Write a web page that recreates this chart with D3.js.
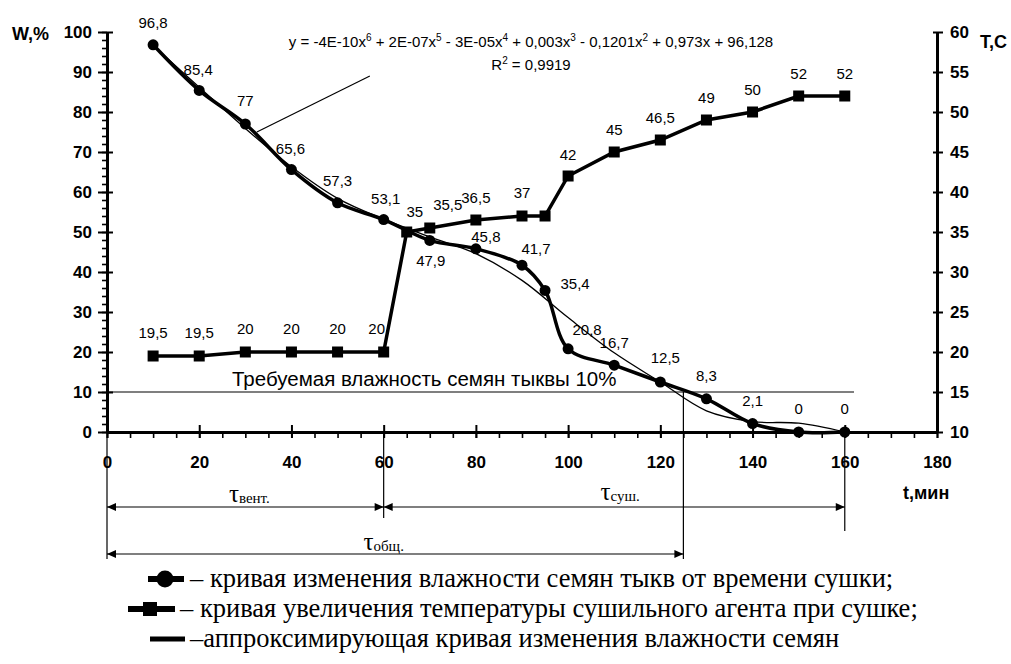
<!DOCTYPE html>
<html>
<head>
<meta charset="utf-8">
<script src="https://cdn.jsdelivr.net/npm/d3@7"></script>
<style>
  body { margin: 0; background: #fff; }
  svg { display: block; }
  .sans { font-family: "Liberation Sans", Arial, sans-serif; }
  .serif { font-family: "Liberation Serif", "Times New Roman", serif; }
</style>
</head>
<body>
<svg id="chart" width="1011" height="664"></svg>
<script>
// Seed moisture, % (left axis) against drying time, min
const moistureTime = [10, 20, 30, 40, 50, 60, 70, 80, 90, 95, 100, 110, 120, 130, 140, 150, 160];
const moistureValues = [96.8, 85.4, 77, 65.6, 57.3, 53.1, 47.9, 45.8, 41.7, 35.4, 20.8, 16.7, 12.5, 8.3, 2.1, 0, 0];

// Drying agent temperature, °C (right axis)
const temperatureTime = [10, 20, 30, 40, 50, 60, 65, 70, 80, 90, 95, 100, 110, 120, 130, 140, 150, 160];
const temperatureValues = [19.5, 19.5, 20, 20, 20, 20, 35, 35.5, 36.5, 37, 37, 42, 45, 46.5, 49, 50, 52, 52];
const temperatureShown = [1, 1, 1, 1, 1, 1, 1, 1, 1, 1, 0, 1, 1, 1, 1, 1, 1, 1];

// Polynomial approximation of the moisture curve
const trendTime = [10, 20, 30, 40, 50, 60, 70, 80, 90, 100, 110, 120, 130, 140, 150, 160];
const trendValues = [96.6, 86.2, 75.9, 66.3, 58.4, 53.2, 48.8, 44.6, 37.9, 28.6, 19.8, 12.5, 5.3, 2.6, 2.2, 0];

const requiredMoisture = 10;
const ventEnd = 60, dryReached = 125, dryEnd = 160;

const timeTicks = [0, 20, 40, 60, 80, 100, 120, 140, 160, 180];
const moistureTicks = [0, 10, 20, 30, 40, 50, 60, 70, 80, 90, 100];
const temperatureTicks = [10, 15, 20, 25, 30, 35, 40, 45, 50, 55, 60];

// label nudges (px) relative to each marker
const moistureNudge = [[0,-22],[-1,-21],[0,-23],[-1,-21],[0,-22],[2,-21],[1,20],[10,-12],[14,-16],[30,-7],[19,-19],[0,-22],[5,-24],[0,-23],[0,-23],[0,-23],[0,-23]];
const temperatureNudge = [[0,-23],[0,-23],[0,-23],[0,-23],[0,-23],[-7,-23],[8,-20],[18,-23],[0,-22],[0,-23],[0,0],[0,-21],[0,-22],[0,-22],[0,-22],[0,-22],[0,-22],[0,-22]];

const equationParts = [["y = -4E-10x", 0], ["6", 1], [" + 2E-07x", 0], ["5", 1], [" - 3E-05x", 0], ["4", 1],
  [" + 0,003x", 0], ["3", 1], [" - 0,1201x", 0], ["2", 1], [" + 0,973x + 96,128", 0]];

const legendRows = [
  { mark: "circle", text: "– кривая изменения влажности семян тыкв от времени сушки;" },
  { mark: "square", text: "– кривая увеличения температуры сушильного агента при сушке;" },
  { mark: "line",   text: "–аппроксимирующая кривая изменения влажности семян" }
];

const svg = d3.select("#chart");
svg.append("rect").attr("width", 1011).attr("height", 664).attr("fill", "#fff");

const x = d3.scaleLinear().domain([0, 180]).range([107, 937]);
const yW = d3.scaleLinear().domain([0, 100]).range([432, 32]);
const yT = d3.scaleLinear().domain([10, 60]).range([432, 32]);
const comma = v => String(v).replace(".", ",");

function styleAxis(g, width) {
  g.attr("font-size", null).attr("font-family", null);
  g.select(".domain").attr("stroke-width", width);
  g.selectAll(".tick line").attr("stroke-width", 2);
}

// ---- left axis: minor, inner major, outer major with labels
svg.append("g").attr("transform", `translate(${x(0)},0)`)
  .call(d3.axisLeft(yW).tickValues(d3.range(0, 101, 2)).tickSize(5).tickSizeOuter(0).tickFormat(""))
  .call(g => { g.select(".domain").remove(); g.selectAll(".tick line").attr("stroke-width", 1.6); });
svg.append("g").attr("transform", `translate(${x(0)},0)`)
  .call(d3.axisLeft(yW).tickValues(moistureTicks).tickSize(-6).tickSizeOuter(0).tickFormat(""))
  .call(g => { g.select(".domain").remove(); g.selectAll(".tick line").attr("stroke-width", 2); });
svg.append("g").attr("class", "sans").attr("transform", `translate(${x(0)},0)`)
  .call(d3.axisLeft(yW).tickValues(moistureTicks).tickSize(9).tickPadding(6).tickSizeOuter(0))
  .call(g => styleAxis(g, 3))
  .call(g => g.selectAll("text").attr("font-size", 17).attr("font-weight", "bold"));

// ---- bottom axis
svg.append("g").attr("transform", `translate(0,${yW(0)})`)
  .call(d3.axisBottom(x).tickValues(d3.range(0, 181, 5)).tickSize(6).tickSizeOuter(0).tickFormat(""))
  .call(g => { g.select(".domain").remove(); g.selectAll(".tick line").attr("stroke-width", 1.6); });
svg.append("g").attr("transform", `translate(0,${yW(0)})`)
  .call(d3.axisBottom(x).tickValues(timeTicks).tickSize(-7).tickSizeOuter(0).tickFormat(""))
  .call(g => { g.select(".domain").remove(); g.selectAll(".tick line").attr("stroke-width", 2); });
svg.append("g").attr("class", "sans").attr("transform", `translate(0,${yW(0)})`)
  .call(d3.axisBottom(x).tickValues(timeTicks).tickSize(6).tickPadding(18).tickSizeOuter(0))
  .call(g => styleAxis(g, 3))
  .call(g => g.selectAll("text").attr("font-size", 17).attr("font-weight", "bold"));

// ---- right axis
svg.append("g").attr("transform", `translate(${x(180)},0)`)
  .call(d3.axisRight(yT).tickValues(temperatureTicks).tickSize(-4).tickSizeOuter(0).tickFormat(""))
  .call(g => { g.select(".domain").remove(); g.selectAll(".tick line").attr("stroke-width", 2); });
svg.append("g").attr("class", "sans").attr("transform", `translate(${x(180)},0)`)
  .call(d3.axisRight(yT).tickValues(temperatureTicks).tickSize(6).tickPadding(7).tickSizeOuter(0))
  .call(g => styleAxis(g, 3))
  .call(g => g.selectAll("text").attr("font-size", 17).attr("font-weight", "bold"));

// ---- axis titles
const titles = svg.append("g").attr("class", "sans").attr("font-weight", "bold").attr("font-size", 18);
titles.append("text").attr("x", 12).attr("y", 40).text("W,%");
titles.append("text").attr("x", 980).attr("y", 48).text("T,C");
titles.append("text").attr("x", 903).attr("y", 499).text("t,мин");

// ---- required moisture line
svg.append("line")
  .attr("x1", x(0)).attr("x2", x(162))
  .attr("y1", yW(requiredMoisture)).attr("y2", yW(requiredMoisture))
  .attr("stroke", "#000").attr("stroke-width", 1.2);
svg.append("text").attr("class", "sans").attr("font-size", 20.5)
  .attr("x", 232).attr("y", yW(requiredMoisture) - 6)
  .text("Требуемая влажность семян тыквы " + requiredMoisture + "%");

// ---- timing annotations below the axis
const ann = svg.append("g").attr("stroke", "#000").attr("stroke-width", 1.2);
ann.append("line").attr("x1", x(0)).attr("x2", x(0)).attr("y1", yW(0)).attr("y2", 559);
ann.append("line").attr("x1", x(ventEnd)).attr("x2", x(ventEnd)).attr("y1", yW(0)).attr("y2", 518);
ann.append("line").attr("x1", x(dryReached)).attr("x2", x(dryReached)).attr("y1", yW(requiredMoisture)).attr("y2", 559);
ann.append("line").attr("x1", x(dryEnd)).attr("x2", x(dryEnd)).attr("y1", yW(0)).attr("y2", 531);

function span(t0, t1, yy) {
  const a = x(t0), b = x(t1);
  ann.append("line").attr("x1", a).attr("x2", b).attr("y1", yy).attr("y2", yy);
  svg.append("path").attr("fill", "#000")
    .attr("d", `M${a},${yy}l9,-4v8z M${b},${yy}l-9,-4v8z`);
}
span(0, ventEnd, 507);
span(ventEnd, dryEnd, 507);
span(0, dryReached, 554);

function tau(cx, yy, sub) {
  const t = svg.append("text").attr("class", "serif").attr("x", cx).attr("y", yy).attr("text-anchor", "middle");
  t.append("tspan").attr("font-size", 25).text("τ");
  t.append("tspan").attr("font-size", 15).attr("dy", 1).text(sub);
}
tau(x(ventEnd / 2) + 4, 502, "вент.");
tau(x((ventEnd + dryEnd) / 2) + 6, 500, "суш.");
tau(x(ventEnd), 550, "общ.");

// ---- trend curve and label leader
svg.append("path")
  .datum(trendTime.map((t, i) => [t, trendValues[i]]))
  .attr("fill", "none").attr("stroke", "#000").attr("stroke-width", 1.3)
  .attr("d", d3.line().x(d => x(d[0])).y(d => yW(d[1])).curve(d3.curveCatmullRom.alpha(0.5)));
svg.append("line")
  .attr("x1", x(32.5)).attr("y1", yW(75)).attr("x2", x(57)).attr("y2", yW(89))
  .attr("stroke", "#000").attr("stroke-width", 1.2);

const eq = svg.append("text").attr("class", "sans").attr("font-size", 15)
  .attr("x", 531).attr("y", 47).attr("text-anchor", "middle");
equationParts.forEach(([s, sup]) => {
  if (sup) eq.append("tspan").attr("font-size", 10).attr("dy", -6).text(s);
  else {
    const tsp = eq.append("tspan").text(s);
    if (eq.selectAll("tspan").size() > 1) tsp.attr("dy", 6);
  }
});
const r2 = svg.append("text").attr("class", "sans").attr("font-size", 15)
  .attr("x", 531).attr("y", 70).attr("text-anchor", "middle");
r2.append("tspan").text("R");
r2.append("tspan").attr("font-size", 10).attr("dy", -6).text("2");
r2.append("tspan").attr("dy", 6).text(" = 0,9919");

// ---- temperature series
const tempPts = temperatureTime.map((t, i) => ({ t, v: temperatureValues[i], i }));
svg.append("path").datum(tempPts)
  .attr("fill", "none").attr("stroke", "#000").attr("stroke-width", 3.5)
  .attr("d", d3.line().x(d => x(d.t)).y(d => yT(d.v)));
svg.selectAll("rect.temp").data(tempPts).join("rect").attr("class", "temp")
  .attr("x", d => x(d.t) - 5.5).attr("y", d => yT(d.v) - 5.5)
  .attr("width", 11).attr("height", 11).attr("fill", "#000");

// ---- moisture series
const moistPts = moistureTime.map((t, i) => ({ t, v: moistureValues[i], i }));
svg.append("path").datum(moistPts)
  .attr("fill", "none").attr("stroke", "#000").attr("stroke-width", 3.5)
  .attr("d", d3.line().x(d => x(d.t)).y(d => yW(d.v)).curve(d3.curveCatmullRom.alpha(0.5)));
svg.selectAll("circle.moist").data(moistPts).join("circle").attr("class", "moist")
  .attr("cx", d => x(d.t)).attr("cy", d => yW(d.v)).attr("r", 5.5).attr("fill", "#000");

// ---- data labels
const labels = svg.append("g").attr("class", "sans").attr("font-size", 15).attr("text-anchor", "middle");
labels.selectAll("text.m").data(moistPts).join("text").attr("class", "m")
  .attr("x", d => x(d.t) + moistureNudge[d.i][0])
  .attr("y", d => yW(d.v) + moistureNudge[d.i][1]).attr("dy", "0.35em")
  .text(d => comma(d.v));
labels.selectAll("text.t").data(tempPts.filter(d => temperatureShown[d.i])).join("text").attr("class", "t")
  .attr("x", d => x(d.t) + temperatureNudge[d.i][0])
  .attr("y", d => yT(d.v) + temperatureNudge[d.i][1]).attr("dy", "0.35em")
  .text(d => comma(d.v));

// ---- legend: symbol followed by a description on each row
const legendY = [579, 609, 639];
const legendTextX = [190, 180, 190];
legendRows.forEach((row, k) => {
  const yy = legendY[k];
  const start = legendTextX[k];
  svg.append("text").attr("class", "serif").attr("font-size", 26.5)
    .attr("x", start).attr("y", yy + 8).text(row.text);
  if (row.mark === "circle") {
    svg.append("line").attr("x1", start - 42).attr("x2", start - 6).attr("y1", yy).attr("y2", yy)
      .attr("stroke", "#000").attr("stroke-width", 6);
    svg.append("circle").attr("cx", start - 25).attr("cy", yy).attr("r", 8.5).attr("fill", "#000");
  } else if (row.mark === "square") {
    svg.append("line").attr("x1", start - 52).attr("x2", start - 5).attr("y1", yy).attr("y2", yy)
      .attr("stroke", "#000").attr("stroke-width", 6);
    svg.append("rect").attr("x", start - 37).attr("y", yy - 7).attr("width", 14).attr("height", 14).attr("fill", "#000");
  } else {
    svg.append("line").attr("x1", start - 40).attr("x2", start - 5).attr("y1", yy).attr("y2", yy)
      .attr("stroke", "#000").attr("stroke-width", 5);
  }
});
</script>
</body>
</html>
